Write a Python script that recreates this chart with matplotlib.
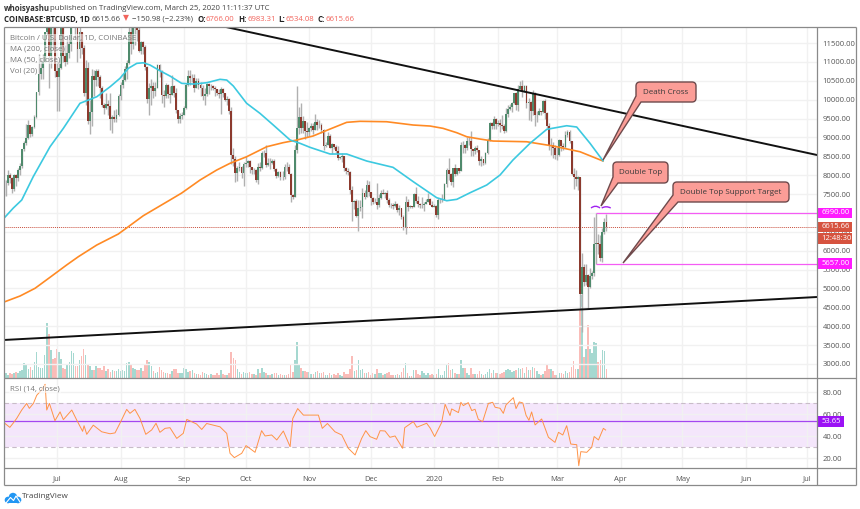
import matplotlib
matplotlib.use("Agg")
import matplotlib.pyplot as plt
import numpy as np
from matplotlib.path import Path
from matplotlib.patches import PathPatch, Circle, Rectangle

plt.rcParams["font.family"] = ["Open Sans", "DejaVu Sans"]

# days are counted from 2019-07-01, first candle is 2019-06-05
first_day = -26
first_open = 7680

closes = [
    7790, 7805, 8000, 7930, 7640, 8005, 7925, 8150, 8235, 8690, 8860, 8980, 9330, 9080, 9280, 9530, 10200, 10690, 10850, 11000, 11780, 12930, 11170, 12400, 11900, 10760,
    10590, 10840, 11980, 11150, 11000, 11230, 11480, 12300, 12570, 12100, 11350, 11800, 11370, 10190, 10850, 9430, 9670, 10630, 10530, 10760, 10590, 10320, 9850, 9770, 9880, 9840, 9480, 9530, 9500, 9590, 10090,
    10400, 10530, 10820, 10980, 11800, 11470, 11970, 11980, 11850, 11300, 11540, 11390, 10870, 10020, 10300, 10360, 10220, 10320, 10920, 10760, 10130, 10110, 10400, 10140, 10130, 10370, 10170, 9720, 9480, 9580, 9600,
    9770, 10390, 10620, 10580, 10580, 10320, 10490, 10400, 10320, 10110, 10160, 10420, 10360, 10360, 10310, 10270, 10190, 10160, 10280, 10170, 9980, 10030, 9690, 8530, 8440, 8060, 8190, 8210, 8050, 8300,
    8310, 8380, 8230, 8150, 8150, 7860, 8210, 8180, 8590, 8590, 8270, 8330, 8310, 8370, 8170, 7990, 8090, 7960, 7950, 8230, 8210, 8030, 7470, 7430, 8660, 9260, 9550, 9240, 9430, 9170, 9150,
    9250, 9310, 9200, 9410, 9320, 9340, 9200, 8770, 8810, 9040, 8730, 8820, 8760, 8640, 8460, 8490, 8500, 8180, 8120, 8080, 7620, 7280, 7320, 6910, 7130, 7170, 7520, 7430, 7750, 7560,
    7400, 7300, 7300, 7200, 7400, 7540, 7510, 7530, 7340, 7220, 7200, 7190, 7250, 7070, 7120, 6880, 6620, 7280, 7150, 7190, 7150, 7510, 7320, 7250, 7200, 7200, 7250, 7300, 7380, 7220, 7170,
    7180, 6950, 7340, 7350, 7350, 7760, 8150, 8040, 7810, 8190, 8020, 8180, 8110, 8810, 8810, 8710, 8900, 8900, 8700, 8630, 8730, 8660, 8380, 8430, 8330, 8590, 8900, 9390, 9290, 9500, 9350,
    9390, 9340, 9290, 9160, 9620, 9760, 9800, 9900, 10170, 9850, 10280, 10350, 10240, 10370, 9900, 9930, 9710, 10170, 9600, 9600, 9700, 9670, 9970, 9650, 9310, 8790, 8810, 8710, 8530,
    8530, 8920, 8770, 8760, 9060, 9150, 8900, 8040, 7950, 7890, 7940, 4860, 5570, 5170, 5360, 5030, 5330, 5420, 6190, 6200, 6190, 5810, 6490, 6766, 6615.66,
]
highs = [
    7900, 7880, 8140, 8060, 7950, 8030, 8040, 8200, 8330, 8700, 8900, 9360, 9460, 9340, 9310, 9600, 10200, 11200, 11080, 11200, 11800, 13800, 13300, 12450, 12200, 12000,
    11050, 11050, 12000, 12050, 11450, 11700, 11600, 12350, 12800, 13150, 12100, 11950, 11800, 11450, 11050, 11000, 9980, 10800, 10780, 10800, 10800, 10650, 10350, 9900, 10170, 10000, 10180, 9600, 9720, 9750, 10150,
    10480, 10680, 10900, 11050, 11950, 12300, 12140, 12050, 12050, 11950, 11560, 11550, 11450, 10900, 10450, 10550, 10470, 10480, 10950, 10950, 10790, 10250, 10450, 10420, 10350, 10650, 10380, 10300, 9730, 9650, 9680,
    9830, 10450, 10780, 10780, 10680, 10680, 10580, 10580, 10480, 10390, 10300, 10450, 10450, 10410, 10380, 10370, 10280, 10280, 10340, 10300, 10180, 10100, 10050, 9800, 8730, 8500, 8240, 8350, 8250, 8350,
    8500, 8400, 8400, 8230, 8190, 8170, 8320, 8350, 8650, 8660, 8800, 8450, 8450, 8420, 8420, 8180, 8120, 8120, 8100, 8300, 8340, 8290, 8050, 7500, 8800, 10370, 9800, 9900, 9560, 9430, 9420,
    9280, 9390, 9380, 9620, 9480, 9450, 9390, 9230, 8870, 9140, 9080, 8860, 8800, 8800, 8780, 8520, 8600, 8520, 8210, 8200, 8110, 7720, 7350, 7370, 7330, 7340, 7650, 7620, 7870, 7840,
    7560, 7420, 7400, 7800, 7490, 7620, 7640, 7560, 7620, 7400, 7270, 7260, 7320, 7270, 7220, 7140, 6940, 7440, 7380, 7220, 7190, 7520, 7690, 7440, 7270, 7430, 7280, 7370, 7530, 7400, 7320,
    7250, 7200, 7400, 7400, 7500, 7800, 8200, 8450, 8050, 8200, 8290, 8190, 8190, 8880, 8900, 8820, 9000, 9000, 9180, 8680, 8770, 8800, 8660, 8520, 8440, 8620, 8980, 9420, 9400, 9570, 9520,
    9460, 9480, 9600, 9350, 9770, 9860, 9880, 9950, 10180, 10200, 10400, 10490, 10520, 10400, 10390, 10050, 9960, 10250, 10200, 9700, 9780, 9710, 9990, 10030, 9670, 9390, 8990, 8890, 8800,
    8750, 8970, 8900, 8850, 9170, 9200, 9190, 8900, 8180, 8150, 7980, 7960, 5950, 5650, 5640, 5380, 5550, 5450, 6900, 6990, 6440, 6410, 6600, 6860, 6983.31,
]
lows = [
    7450, 7450, 7750, 7800, 7520, 7580, 7720, 7850, 8000, 8180, 8650, 8800, 8950, 9000, 9050, 9240, 9520, 10120, 10550, 10550, 11000, 11700, 10300, 10850, 11350, 10600,
    9700, 9700, 10800, 11000, 10900, 10950, 11100, 11300, 12100, 11600, 11000, 11100, 11200, 10100, 9850, 9350, 9100, 9300, 10100, 10350, 10350, 10050, 9800, 9620, 9750, 9600, 9200, 9120, 9400, 9400, 9570,
    10000, 10320, 10500, 10550, 10950, 11200, 11350, 11450, 11550, 11250, 11200, 11200, 10780, 9900, 9600, 9850, 10050, 10100, 10300, 10600, 9900, 9800, 10050, 10050, 9900, 10130, 10080, 9650, 9370, 9370, 9500,
    9600, 9760, 10350, 10400, 10480, 10200, 10320, 10280, 10100, 10000, 9860, 10100, 10150, 10250, 10250, 10090, 10130, 10050, 9620, 10080, 9970, 9850, 9630, 8300, 8250, 7830, 7850, 8100, 7930, 7710,
    8210, 8220, 8050, 8030, 8020, 7830, 7770, 8110, 8160, 8480, 8220, 8250, 8160, 8290, 8110, 7930, 7950, 7880, 7880, 7890, 8120, 8020, 7300, 7370, 7430, 8600, 9100, 9120, 9120, 8970, 9000,
    9050, 9180, 9100, 9190, 9190, 9250, 9130, 8680, 8750, 8800, 8720, 8570, 8700, 8600, 8400, 8430, 8350, 8100, 8020, 8000, 7510, 6800, 7100, 6880, 6510, 7050, 6860, 7360, 7410, 7450,
    7200, 7250, 7260, 7100, 7170, 7370, 7490, 7400, 7270, 7150, 7130, 7100, 7150, 7030, 6950, 6850, 6560, 6440, 7040, 7130, 7130, 7150, 7260, 7150, 7130, 7120, 7060, 7250, 7280, 7200, 7150,
    7150, 6900, 6850, 7270, 7300, 7340, 7700, 7870, 7730, 7680, 7980, 8000, 8060, 8100, 8580, 8590, 8670, 8800, 8500, 8520, 8560, 8610, 8260, 8250, 8280, 8300, 8560, 8900, 9220, 9220, 9220,
    9300, 9150, 9220, 9130, 9150, 9530, 9730, 9680, 9880, 9730, 9700, 10240, 10080, 10200, 9770, 9470, 9440, 9600, 9300, 9400, 9600, 9590, 9660, 9480, 9250, 8660, 8540, 8450, 8420,
    8410, 8500, 8650, 8660, 8730, 9000, 8840, 8000, 7630, 7720, 7600, 4450, 3850, 5060, 5100, 4450, 5000, 5250, 5330, 5657, 5900, 5730, 5690, 6450, 6534.08,
]
volumes = [
    4, 5, 3, 5, 4, 5, 6, 5, 7, 8, 15, 14, 9, 11, 8, 16, 26, 11, 10, 10, 23, 55, 44, 28, 19, 20,
    29, 26, 19, 10, 9, 14, 16, 27, 25, 12, 12, 18, 22, 29, 23, 14, 12, 8, 8, 12, 10, 10, 8, 12, 7, 9, 6, 8, 7, 7, 9,
    7, 8, 7, 15, 16, 13, 10, 9, 8, 8, 10, 7, 13, 18, 16, 12, 7, 5, 6, 11, 8, 6, 5, 5, 4, 7, 9, 9, 5, 5, 5,
    10, 9, 6, 7, 8, 5, 4, 4, 3, 6, 5, 4, 3, 4, 3, 3, 5, 3, 8, 4, 3, 3, 5, 26, 20, 18, 9, 6, 4, 6,
    5, 5, 6, 4, 4, 3, 9, 5, 10, 6, 5, 3, 3, 4, 5, 5, 3, 4, 3, 3, 3, 4, 13, 6, 18, 36, 14, 10, 7, 7, 6,
    6, 4, 4, 6, 7, 5, 5, 6, 3, 3, 5, 3, 4, 3, 5, 3, 2, 6, 4, 4, 9, 22, 7, 8, 18, 8, 9, 5, 5, 6,
    3, 5, 4, 9, 5, 5, 3, 4, 5, 6, 3, 3, 3, 4, 3, 6, 10, 15, 5, 2, 2, 8, 8, 4, 3, 7, 5, 3, 5, 3, 4,
    3, 4, 9, 3, 3, 7, 13, 15, 8, 9, 5, 4, 4, 18, 10, 10, 5, 3, 10, 4, 4, 4, 7, 4, 3, 4, 6, 9, 5, 8, 5,
    5, 4, 5, 6, 8, 9, 8, 6, 7, 8, 10, 9, 10, 5, 11, 8, 8, 11, 10, 7, 4, 3, 4, 7, 14, 9, 9, 7, 3,
    3, 5, 5, 4, 7, 5, 6, 11, 17, 9, 9, 68, 83, 21, 29, 53, 29, 25, 36, 35, 16, 18, 28, 27, 9,
]

ma200_days = [-25.4, -18, -10.7, -3.4, 4.7, 10.4, 19.4, 29.9, 34.8, 42.1, 55.1, 60.8, 69.8, 77.9, 84.4, 92.5, 102.3, 110.2, 117, 124.9, 133.2, 141.3, 147.8, 160.8, 173.7, 182, 188.3, 195, 199.9, 206.3, 212.7, 229.1, 242.1, 255.1, 266.3]
ma200_vals = [4650, 4801, 5005, 5296, 5622, 5841, 6151, 6442, 6636, 6927, 7343, 7527, 7873, 8137, 8315, 8489, 8754, 8860, 8932, 9038, 9223, 9400, 9427, 9416, 9329, 9302, 9241, 9125, 9018, 8958, 8905, 8886, 8772, 8621, 8376]
ma50_days = [-25.9, -21.3, -17.2, -11.6, -3.4, 3.1, 11.2, 19.4, 25.9, 30.7, 34.8, 38.9, 42.1, 45.4, 50.2, 55.1, 60.8, 66.5, 73, 79.5, 82.8, 86, 92.5, 99, 105.5, 113.7, 118.5, 123.4, 133.2, 141.3, 151.1, 163.9, 173.8, 185.2, 190.1, 195, 201.5, 209.6, 216.1, 222.4, 230.7, 238.9, 248.6, 253.5, 260, 266.3]
ma50_vals = [6858, 7131, 7343, 7960, 8754, 9241, 9904, 10078, 10343, 10565, 10830, 10962, 10978, 10917, 10767, 10627, 10433, 10414, 10449, 10539, 10520, 10362, 9904, 9638, 9329, 8932, 8845, 8738, 8561, 8561, 8375, 8208, 7827, 7404, 7324, 7361, 7536, 7740, 8005, 8402, 8844, 9215, 9310, 9276, 8844, 8383]

rsi_days = [
    -25.5, -23, -21.3, -19.7, -17.2, -14.8, -13.5, -11.5, -9.9, -7.5, -5.8, -5, -3.7, -1, 1.5, 3.1, 7.2, 9.6, 12.5, 13.2, 14.5, 17.7, 21.8, 25.9, 28.3, 30.7,
    34, 35.6, 38, 40.5, 43.3, 46.2, 48.3, 50.2, 52.7, 55.1, 58.4, 61.6, 63.3, 68.1, 70.6, 73, 79.5, 82.8, 84.4, 86.5, 90.1, 92.2, 96.6, 99.8, 101.5, 104.7, 107.2, 110.4, 113.7,
    115, 117.4, 120.2, 127.5, 129.4, 131.9, 135.6, 138.9, 142.1, 145.4, 148.6, 150.6, 152.7, 155.9, 157.6, 160, 162.4, 164.9, 168.6, 169.6, 173.8, 175.5, 180.3, 182,
    184.2, 187.6, 189.3, 191.7, 192.5, 195.8, 197, 198.2, 200.6, 202.3, 203.9, 205.5, 207.6, 210.4, 212.5, 213.7, 216.1, 217.7, 219, 222.6, 223.9, 225.5, 227.2, 228.8, 230.2, 231.5,
    233.2, 236.4, 239.7, 242.9, 244.6, 246.7, 248.6, 250.6, 253.5, 254.5, 255.5, 258.4, 260.8, 262, 264.1, 266.5, 267.6,
]
rsi_vals = [
    51.7, 48, 52, 56, 63.7, 69.7, 65.2, 69.7, 77, 82, 87, 63.7, 69.7, 54, 62, 55, 63.7, 54.7, 44.4, 49.5, 41.7, 50, 44, 42.2, 43, 51.7,
    64.3, 60.7, 64.3, 56, 41.7, 45.7, 51.7, 43.5, 47.1, 47.7, 38, 42.6, 55.2, 51, 46.1, 51.5, 48.5, 42.5, 24.5, 20.6, 24.5, 31.5, 25.4, 45, 40.2, 41.1, 36.6, 44.7, 30.5,
    56, 65, 59.1, 59.1, 47.1, 51.5, 44, 41.1, 29, 23, 38, 45, 39.6, 37.2, 45, 44.7, 39, 40.2, 29, 47.7, 53.2, 48.1, 51.7, 47.4,
    39.7, 52.3, 68.9, 58.7, 64.7, 61.4, 70.7, 67.7, 70.4, 63.2, 64.4, 55.3, 53.2, 69.7, 70.7, 66.2, 65.3, 60.7, 68.3, 74.9, 65, 71, 70.1, 58.9, 54.4, 62,
    50.2, 55.6, 39, 34.4, 43.5, 41.1, 49.5, 32.9, 32.3, 13.3, 26, 25.4, 30, 39.7, 36.6, 47.1, 45.6,
]

month_days = [0, 31, 62, 92, 123, 153, 184, 215, 244, 275, 305, 336, 366]
month_labels = ["Jul", "Aug", "Sep", "Oct", "Nov", "Dec", "2020", "Feb", "Mar", "Apr", "May", "Jun", "Jul"]
price_ticks = list(range(3000, 12000, 500))
rsi_ticks = [20, 40, 60, 80]

trend_top_days, trend_top_vals = [82.4, 370.7], [11925, 8535]
trend_low_days, trend_low_vals = [-25.85, 370.7], [3636, 4774]
double_top = 6990
support = 5657
last_price = 6615.66
rsi_last = 53.65

TEXT = "#555555"
GRID = "#f1f1f1"
UP, DOWN = "#4f8a6c", "#8c3a2e"
MAGENTA = "#f45cf4"
W, H = 860, 509
XLIM = (-25.85, 370.7)


def pane(top, bottom):
    return [4 / W, (H - bottom) / H, 813 / W, (bottom - top) / H]


def style_pane(a):
    a.set_xlim(*XLIM)
    a.set_xticks(month_days)
    a.grid(True, color=GRID, lw=1)
    a.set_axisbelow(True)
    a.yaxis.tick_right()
    a.tick_params(length=0, labelsize=5.5, labelcolor=TEXT, pad=4)
    for s in a.spines.values():
        s.set_visible(False)


def segments(ov, y, parts):
    for x, txt, color, weight in parts:
        ov.text(x, y, txt, color=color, fontweight=weight, fontsize=5.6, va="center", ha="left")


def callout(ov, x0, y0, x1, y1, tip, base_y, base_x, label):
    r = 4
    verts = [(x0 + r, y0), (x1 - r, y0), (x1, y0), (x1, y0 + r), (x1, y1 - r), (x1, y1), (x1 - r, y1),
             (base_x, y1), tip, (x0, base_y), (x0, y0 + r), (x0, y0), (x0 + r, y0), (x0 + r, y0)]
    codes = [Path.MOVETO, Path.LINETO, Path.CURVE3, Path.CURVE3, Path.LINETO, Path.CURVE3, Path.CURVE3,
             Path.LINETO, Path.LINETO, Path.LINETO, Path.LINETO, Path.CURVE3, Path.CURVE3, Path.CLOSEPOLY]
    ov.add_patch(PathPatch(Path(verts, codes), fc="#fb9d97", ec="#6e4a4c", lw=1))
    ov.text((x0 + x1) / 2, (y0 + y1) / 2, label, fontsize=5.8, color="#3a3a3a", ha="center", va="center")


def main():
    closes_a = np.array(closes, dtype=float)
    opens = np.r_[first_open, closes_a[:-1]]
    days = first_day + np.arange(len(closes_a))
    up = closes_a >= opens

    fig = plt.figure(figsize=(W / 100, H / 100), dpi=100, facecolor="white")
    ax_vol = fig.add_axes(pane(27, 378), zorder=1)
    ax = fig.add_axes(pane(27, 378), zorder=2)
    ax_rsi = fig.add_axes(pane(378, 468), zorder=2)
    ov = fig.add_axes([0, 0, 1, 1], zorder=5)
    ov.set_xlim(0, W)
    ov.set_ylim(H, 0)
    ov.axis("off")
    ov.patch.set_alpha(0)

    # volume, scale only matters relative to pane height
    ax_vol.bar(days, volumes, width=0.75, color=np.where(up, "#a5d8d0", "#fabcb8"))
    ax_vol.set_xlim(*XLIM)
    ax_vol.set_ylim(0, 351)
    ax_vol.axis("off")

    # candles
    ax.patch.set_alpha(0)
    style_pane(ax)
    ax.vlines(days, lows, highs, color="#b0b0b0", lw=1, zorder=2)
    ax.bar(days, np.abs(closes_a - opens), bottom=np.minimum(closes_a, opens), width=0.9,
           color=np.where(up, UP, DOWN), zorder=3)
    ax.plot(ma200_days, ma200_vals, color="#ff8a24", lw=1.2, zorder=4)
    ax.plot(ma50_days, ma50_vals, color="#3cc9e0", lw=1.2, zorder=4)
    ax.plot(trend_top_days, trend_top_vals, color="#111111", lw=1.4, zorder=5)
    ax.plot(trend_low_days, trend_low_vals, color="#111111", lw=1.4, zorder=5)
    ax.hlines([double_top, support], 262.9, XLIM[1], color=MAGENTA, lw=0.9, zorder=5)
    ax.axhline(last_price, color="#c9503f", lw=0.7, ls=(0, (1, 1)), zorder=1)
    ax.set_ylim(2629, 11925)
    ax.set_yticks(price_ticks)
    ax.set_yticklabels([f"{p:.2f}" for p in price_ticks])
    ax.tick_params(labelbottom=False)

    # rsi
    style_pane(ax_rsi)
    ax_rsi.axhspan(30, 70, color="#f4e6fb", lw=0, zorder=0)
    ax_rsi.hlines([30, 70], *XLIM, color="#c8bcc8", lw=0.8, ls=(0, (4, 3)), zorder=1)
    ax_rsi.plot(rsi_days, rsi_vals, color="#ff9347", lw=0.7, zorder=3)
    ax_rsi.axhline(rsi_last, color="#a346f0", lw=0.9, zorder=2)
    ax_rsi.set_ylim(11.2, 92.7)
    ax_rsi.set_yticks(rsi_ticks)
    ax_rsi.set_yticklabels([f"{v:.2f}" for v in rsi_ticks])
    ax_rsi.set_xticklabels(month_labels)
    ax_rsi.tick_params(axis="x", pad=5.5)

    # frame
    for x0, y0, x1, y1 in [(4, 27, 856, 27), (4, 27, 4, 485), (856, 27, 856, 485), (4, 485, 856, 485),
                           (817, 27, 817, 485), (4, 378, 856, 378), (4, 468, 856, 468)]:
        ov.plot([x0, x1], [y0, y1], color="#8a8a8a", lw=0.9, solid_capstyle="butt")

    # header
    segments(ov, 8, [(4, "whoisyashu", "#333333", "bold"),
                     (50, "published on TradingView.com, March 25, 2020 11:11:37 UTC", "#444444", "normal")])
    red = "#f2645c"
    segments(ov, 19, [(4, "COINBASE:BTCUSD, 1D", "#222222", "bold"), (92, "6615.66", "#444444", "normal"),
                      (123, "▼", red, "normal"), (132, "−150.98 (−2.23%)", "#444444", "normal"),
                      (197, "O:", "#222222", "bold"), (206, "6766.00", red, "normal"),
                      (238, "H:", "#222222", "bold"), (247, "6983.31", red, "normal"),
                      (278.5, "L:", "#222222", "bold"), (286, "6534.08", red, "normal"),
                      (317, "C:", "#222222", "bold"), (325, "6615.66", red, "normal")])

    # pane legends
    halo = dict(fc="white", ec="none", alpha=0.55, pad=0.6)
    for y, txt in [(38, "Bitcoin / U.S. Dollar, 1D, COINBASE"), (49, "MA (200, close)"),
                   (60, "MA (50, close)"), (71, "Vol (20)"), (389, "RSI (14, close)")]:
        ov.text(10, y, txt, fontsize=5.7, color="#777777", va="center", bbox=halo)

    # price labels on the scale
    for y0, y1, x1, txt, color in [(208, 218, 852, "6990.00", "#ff19ff"), (258, 269, 852, "5657.00", "#ff19ff"),
                                   (222, 232, 852, "6615.66", "#d6533f"), (233, 244, 852, "12:48:30", "#d6533f"),
                                   (416, 427, 844, "53.65", "#9b12f5")]:
        ov.add_patch(Rectangle((817, y0), x1 - 817, y1 - y0, fc=color, ec="none"))
        ov.text(821.5, (y0 + y1) / 2, txt, color="white", fontsize=5.5, va="center")

    # callouts
    callout(ov, 636, 82, 696, 102, (603, 160), 96, 641, "Death Cross")
    callout(ov, 613, 162, 668, 183, (601, 206), 177, 618, "Double Top")
    callout(ov, 673, 182, 789, 202, (623, 263), 195, 678, "Double Top Support Target")

    # arcs above the double top
    for a, b, peak in [(591, 600, 204.5), (601.7, 610.7, 205.5)]:
        arc = Path([(a, 208), ((a + b) / 2, peak), (b, 208)], [Path.MOVETO, Path.CURVE3, Path.CURVE3])
        ov.add_patch(PathPatch(arc, fc="none", ec="#a020f0", lw=1))

    # tradingview logo
    for cx, cy, r in [(8, 500, 3.3), (13, 497, 4.2), (18, 500, 3.3)]:
        ov.add_patch(Circle((cx, cy), r, fc="#2196f3", ec="none"))
    ov.add_patch(Rectangle((8, 499), 10, 4.3, fc="#2196f3", ec="none"))
    ov.plot([6, 10.5, 13.5, 16, 20], [503, 497.5, 500.5, 496, 502], color="white", lw=0.8)
    ov.text(22, 497, "TradingView", fontsize=5.9, color="#444444", va="center")

    fig.savefig("out.png", dpi=100)


if (__name__ == "__main__"):
    main()
